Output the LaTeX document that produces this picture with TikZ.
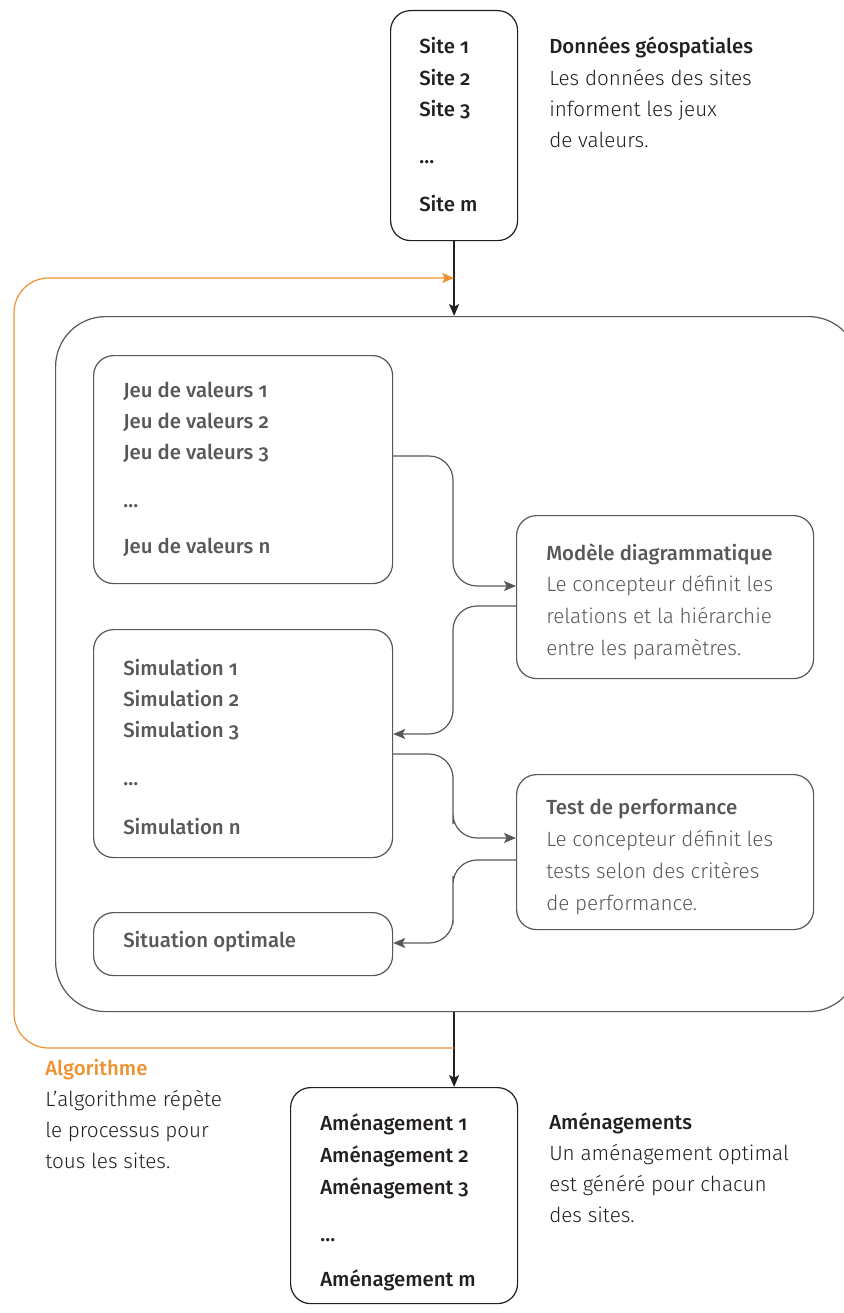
\documentclass[tikz,border=0pt]{standalone}
\usepackage{fontspec}
\setmainfont{Fira Sans Light}[Numbers=OldStyle, BoldFont={Fira Sans Medium}]
\usetikzlibrary{arrows.meta}

\definecolor{ink}{HTML}{231F20}
\definecolor{slate}{HTML}{58585A}
\definecolor{amber}{HTML}{EE922F}

\tikzset{
  box/.style={draw, anchor=north west, inner sep=0pt, rounded corners=15pt, line width=0.9pt},
  item/.style={anchor=base west, inner sep=0pt, font=\fontsize{15.3}{18}\selectfont\bfseries},
  note/.style={anchor=base west, inner sep=0pt, font=\fontsize{15.5}{18}\selectfont},
  head/.style={note, font=\fontsize{15.3}{18}\selectfont\bfseries},
  flow/.style={->, draw=slate, line width=0.9pt, rounded corners=18pt},
}

\begin{document}
\begin{tikzpicture}[x=0.75pt, y=-0.75pt, >={Stealth[length=9pt, width=7.5pt, inset=2pt]}]

    \useasboundingbox (0,0) rectangle (843,1313);

    % Boxes
    \node[box, draw=ink, minimum width=95.25pt, minimum height=172.5pt] (sites) at (390,10) {};
    \node[box, draw=slate, rounded corners=37.5pt, minimum width=602.25pt, minimum height=521.25pt] (loop) at (55,316) {};
    \node[box, draw=slate, minimum width=224.25pt, minimum height=171pt] (jeu) at (93,355) {};
    \node[box, draw=slate, minimum width=222.75pt, minimum height=122.25pt] (modele) at (516,515) {};
    \node[box, draw=slate, minimum width=224.25pt, minimum height=171pt] (simul) at (93,629) {};
    \node[box, draw=slate, minimum width=222.75pt, minimum height=116.25pt] (test) at (516,774) {};
    \node[box, draw=slate, minimum width=224.25pt, minimum height=47.25pt] (optim) at (93,912) {};
    \node[box, draw=ink, minimum width=170.25pt, minimum height=162pt] (amenag) at (290,1087) {};

    % Sites
    \foreach \t/\y [count=\i] in {Site 1/54, Site 2/85, Site 3/116, …/163, Site m/211} {
        \node[item, text=ink] (site-\i) at (419,\y) {\t};
    }

    % Value sets
    \foreach \t/\y [count=\i] in {Jeu de valeurs 1/397, Jeu de valeurs 2/428, Jeu de valeurs 3/459, …/507, Jeu de valeurs n/553} {
        \node[item, text=slate] (jeu-\i) at (123,\y) {\t};
    }

    % Simulations
    \foreach \t/\y [count=\i] in {Simulation 1/675, Simulation 2/706, Simulation 3/737, …/785, Simulation n/834} {
        \node[item, text=slate] (simul-\i) at (123,\y) {\t};
    }

    % Optimal situation
    \node[item, text=slate] (optim-1) at (123,947) {Situation optimale};

    % Layouts
    \foreach \t/\y [count=\i] in {Aménagement 1/1130, Aménagement 2/1162, Aménagement 3/1194, …/1241, Aménagement m/1286} {
        \node[item, text=ink] (amenag-\i) at (320,\y) {\t};
    }

    % Notes
    \node[head, text=ink] (geo-0) at (549,54) {Données géospatiales};
    \foreach \t [count=\i] in {Les données des sites, informent les jeux, de valeurs.} {
        \node[note, text=ink] (geo-\i) at (549,54+31.3*\i) {\t};
    }

    \node[head, text=slate] (modele-0) at (546,560) {Modèle diagrammatique};
    \foreach \t [count=\i] in {Le concepteur définit les, relations et la hiérarchie, entre les paramètres.} {
        \node[note, text=slate] (modele-\i) at (546,560+31.7*\i) {\t};
    }

    \node[head, text=slate] (test-0) at (546,814) {Test de performance};
    \foreach \t [count=\i] in {Le concepteur définit les, tests selon des critères, de performance.} {
        \node[note, text=slate] (test-\i) at (546,814+32*\i) {\t};
    }

    \node[head, text=ink] (amen-0) at (549,1129) {Aménagements};
    \foreach \t [count=\i] in {Un aménagement optimal, est généré pour chacun, des sites.} {
        \node[note, text=ink] (amen-\i) at (549,1129+31.3*\i) {\t};
    }

    \node[head, text=amber] (algo-0) at (45,1075) {Algorithme};
    \foreach \t [count=\i] in {L’algorithme répète, le processus pour, tous les sites.} {
        \node[note, text=ink] (algo-\i) at (45,1075+31.3*\i) {\t};
    }

    % Main flow
    \draw[->, ink, line width=1.1pt] (sites.south) -- (sites.south |- loop.north);
    \draw[->, ink, line width=1.1pt] (sites.south |- loop.south) -- (sites.south |- amenag.north);

    % Inner connectors
    \draw[flow] (jeu.east |- 0,456) -| (453,520) |- (modele.west |- 0,586);
    \draw[flow] (modele.west |- 0,606) -| (453,670) |- (simul.east |- 0,734);
    \draw[flow] (simul.east |- 0,754) -| (453,800) |- (test.west |- 0,838);
    \draw[flow] (test.west |- 0,860) -| (453,900) |- (optim.east |- 0,943);

    % Repeat for every site
    \coordinate (back-from) at (sites.south |- 0,1048);
    \coordinate (back-to) at (sites.south |- 0,278);
    \draw[->, amber, line width=0.9pt, rounded corners=26pt] (back-from) -| (14,660) |- (back-to);

\end{tikzpicture}
\end{document}
